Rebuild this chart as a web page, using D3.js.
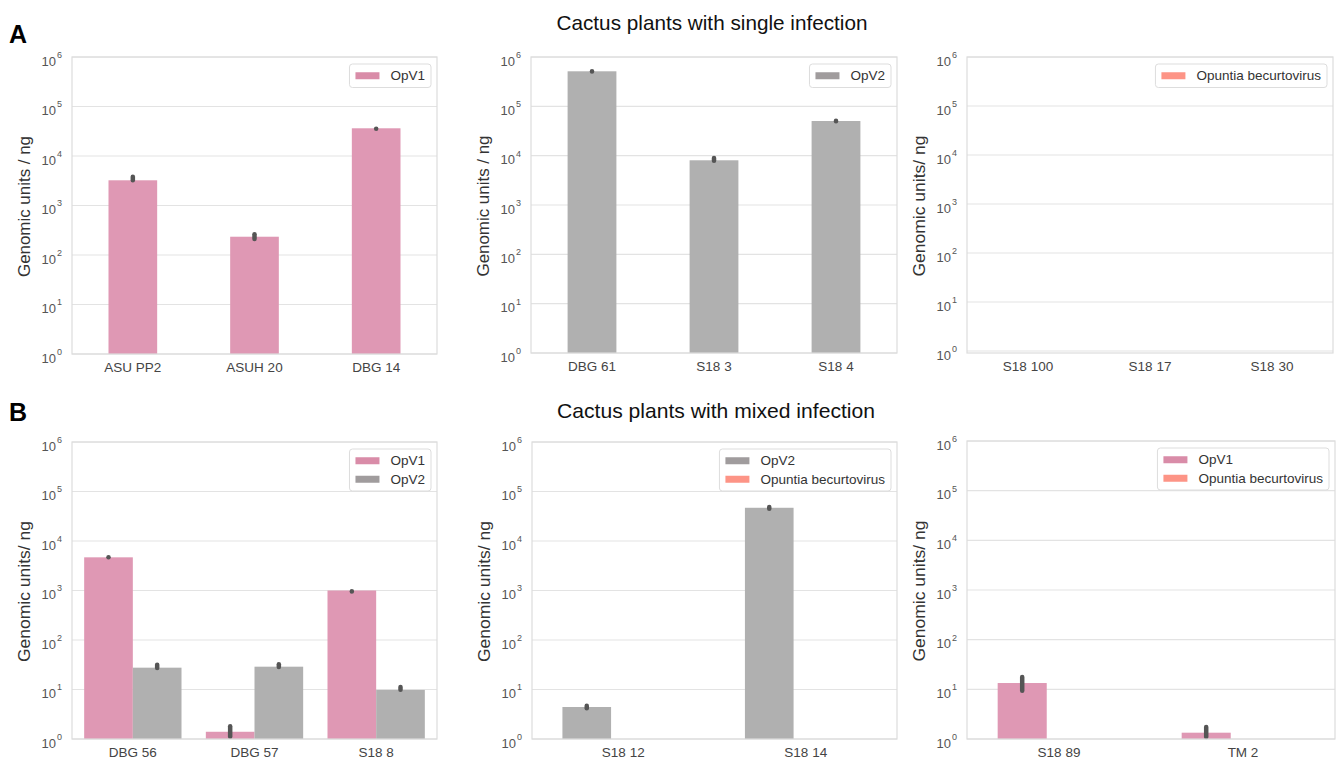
<!DOCTYPE html>
<html>
<head>
<meta charset="utf-8">
<script src="https://cdn.jsdelivr.net/npm/d3@7"></script>
<style>
  body { margin: 0; background: #fff; }
  svg { font-family: "Liberation Sans", Arial, sans-serif; }
</style>
</head>
<body>
<div class="chart"></div>
<script>
// 資料
const seriesNames = ["OpV1", "OpV2", "Opuntia becurtovirus"]

// A: single infection
const catsA1 = ["ASU PP2", "ASUH 20", "DBG 14"]
const opv1A1 = [3230, 234, 36300]
const opv1A1Lo = [2950, 192, 32500]
const opv1A1Hi = [4200, 288, 39000]

const catsA2 = ["DBG 61", "S18 3", "S18 4"]
const opv2A2 = [513000, 8060, 50400]
const opv2A2Lo = [470000, 7200, 46700]
const opv2A2Hi = [560000, 9800, 55000]

const catsA3 = ["S18 100", "S18 17", "S18 30"]
const obA3 = [null, null, null]

// B: mixed infection
const catsB1 = ["DBG 56", "DBG 57", "S18 8"]
const opv1B1 = [4680, 1.40, 1000]
const opv1B1Lo = [4270, 1.01, 875]
const opv1B1Hi = [5150, 1.98, 1050]
const opv2B1 = [27.6, 28.9, 9.8]
const opv2B1Lo = [24.7, 25.9, 9.0]
const opv2B1Hi = [34.8, 35.4, 12.3]

const catsB2 = ["S18 12", "S18 14"]
const opv2B2 = [4.43, 46900]
const opv2B2Lo = [3.80, 40900]
const opv2B2Hi = [5.16, 53300]
const obB2 = [null, null]

const catsB3 = ["S18 89", "TM 2"]
const opv1B3 = [13.4, 1.34]
const opv1B3Lo = [8.5, 1.0]
const opv1B3Hi = [19.4, 1.91]
const obB3 = [null, null]

const yTicks = [1, 10, 100, 1000, 10000, 100000, 1000000]

const barColor = { "OpV1": "#df98b4", "OpV2": "#b0b0b0", "Opuntia becurtovirus": "#fd9486" }
const legendColor = { "OpV1": "#d98ca8", "OpV2": "#a09c9d", "Opuntia becurtovirus": "#fd9486" }

function s(name, values, lo, hi) {
  return { name: name, values: values, lo: lo || [], hi: hi || [] }
}

const panels = [
  { box: [72, 437, 57, 354], cats: catsA1, ylabel: "Genomic units / ng", ymin: 1,
    series: [s("OpV1", opv1A1, opv1A1Lo, opv1A1Hi)] },
  { box: [531, 897, 57, 353], cats: catsA2, ylabel: "Genomic units / ng", ymin: 1,
    series: [s("OpV2", opv2A2, opv2A2Lo, opv2A2Hi)] },
  { box: [967, 1333, 57, 353], cats: catsA3, ylabel: "Genomic units/ ng", ymin: 0.91,
    series: [s("Opuntia becurtovirus", obA3)] },
  { box: [72, 437, 442, 739], cats: catsB1, ylabel: "Genomic units/ ng", ymin: 1,
    series: [s("OpV1", opv1B1, opv1B1Lo, opv1B1Hi), s("OpV2", opv2B1, opv2B1Lo, opv2B1Hi)] },
  { box: [532, 897, 442, 739], cats: catsB2, ylabel: "Genomic units/ ng", ymin: 1,
    series: [s("OpV2", opv2B2, opv2B2Lo, opv2B2Hi), s("Opuntia becurtovirus", obB2)] },
  { box: [967, 1335, 441, 739], cats: catsB3, ylabel: "Genomic units/ ng", ymin: 1,
    series: [s("OpV1", opv1B3, opv1B3Lo, opv1B3Hi), s("Opuntia becurtovirus", obB3)] }
]

const svg = d3.select(".chart").append("svg")
  .attr("width", 1338)
  .attr("height", 758)

// 標題
svg.append("text").attr("x", 712).attr("y", 30).attr("text-anchor", "middle")
  .attr("font-size", 21).attr("textLength", 311).attr("lengthAdjust", "spacingAndGlyphs")
  .attr("fill", "#111").text("Cactus plants with single infection")
svg.append("text").attr("x", 716).attr("y", 418).attr("text-anchor", "middle")
  .attr("font-size", 21).attr("textLength", 318).attr("lengthAdjust", "spacingAndGlyphs")
  .attr("fill", "#111").text("Cactus plants with mixed infection")
svg.append("text").attr("x", 9).attr("y", 43).attr("font-size", 25).attr("font-weight", "bold").text("A")
svg.append("text").attr("x", 9).attr("y", 421).attr("font-size", 25).attr("font-weight", "bold").text("B")

panels.forEach(drawPanel)

function drawPanel(p) {
  const [left, right, top, bottom] = p.box
  const w = right - left
  const g = svg.append("g")

  const x = d3.scaleBand().domain(p.cats).range([left, right]).padding(0)
  const y = d3.scaleLog().domain([p.ymin, 1e6]).range([bottom, top])

  // 格線
  g.append("g")
    .selectAll("line")
    .data(yTicks)
    .join("line")
    .attr("x1", left).attr("x2", right)
    .attr("y1", d => y(d)).attr("y2", d => y(d))
    .attr("stroke", "#e3e3e3").attr("stroke-width", 1.2)

  // Y 軸
  const yAxis = g.append("g")
    .attr("transform", `translate(${left},0)`)
    .call(d3.axisLeft(y).tickValues(yTicks).tickSize(0).tickPadding(10).tickFormat(""))
  yAxis.select(".domain").remove()
  yAxis.selectAll(".tick text")
    .attr("font-size", 13).attr("fill", "#555").attr("dy", "0.62em")
    .each(function(d) {
      const t = d3.select(this)
      t.append("tspan").text("10")
      t.append("tspan").attr("font-size", 9).attr("dy", "-0.85em").attr("dx", "1")
        .text(Math.round(Math.log10(d)))
    })

  // X 軸
  const xAxis = g.append("g")
    .attr("transform", `translate(0,${bottom})`)
    .call(d3.axisBottom(x).tickSize(0).tickPadding(8))
  xAxis.select(".domain").remove()
  xAxis.selectAll(".tick text").attr("font-size", 13.5).attr("fill", "#444")

  // 柱子
  const n = p.series.length
  const bw = x.bandwidth()
  const barW = 0.4 * w / 3
  p.series.forEach((sr, i) => {
    const off = (i - (n - 1) / 2) * 0.8 * bw / n
    const rows = p.cats.map((c, j) => ({ c: c, v: sr.values[j], lo: sr.lo[j], hi: sr.hi[j] }))
      .filter(d => d.v != null)
    g.append("g").selectAll("rect")
      .data(rows)
      .join("rect")
      .attr("x", d => x(d.c) + bw / 2 + off - barW / 2)
      .attr("width", barW)
      .attr("y", d => y(d.v))
      .attr("height", d => y(p.ymin) - y(d.v))
      .attr("fill", barColor[sr.name])
    g.append("g").selectAll("line")
      .data(rows.filter(d => d.lo != null))
      .join("line")
      .attr("x1", d => x(d.c) + bw / 2 + off)
      .attr("x2", d => x(d.c) + bw / 2 + off)
      .attr("y1", d => y(d.lo) - 2)
      .attr("y2", d => y(d.hi) + 2)
      .attr("stroke", "#555").attr("stroke-width", 4.5).attr("stroke-linecap", "round")
  })

  // 外框
  g.append("rect")
    .attr("x", left).attr("y", top).attr("width", w).attr("height", bottom - top)
    .attr("fill", "none").attr("stroke", "#dcdcdc").attr("stroke-width", 1.2)

  // Y 軸標籤
  g.append("text")
    .attr("transform", `translate(${left - 42},${(top + bottom) / 2 + 1}) rotate(-90)`)
    .attr("text-anchor", "middle").attr("font-size", 17).attr("fill", "#333")
    .attr("textLength", 141).attr("lengthAdjust", "spacingAndGlyphs")
    .text(p.ylabel)

  // 圖例
  const rowH = 18.5
  const lg = g.append("g")
  const box = lg.append("rect").attr("rx", 3)
    .attr("fill", "#fff").attr("fill-opacity", 0.85)
    .attr("stroke", "#dddddd")
  let textW = 0
  p.series.forEach((sr, i) => {
    const cy = 2.5 + rowH * i + rowH / 2
    lg.append("rect").attr("x", 6).attr("y", cy - 3.5).attr("width", 24).attr("height", 7)
      .attr("fill", legendColor[sr.name])
    const t = lg.append("text").attr("x", 41).attr("y", cy).attr("dy", "0.35em")
      .attr("font-size", 13.5).attr("fill", "#333").text(sr.name)
    textW = Math.max(textW, t.node().getComputedTextLength())
  })
  const lgW = 41 + textW + 6
  const lgH = 5 + rowH * n
  box.attr("width", lgW).attr("height", lgH)
  lg.attr("transform", `translate(${right - 6 - lgW},${top + 7})`)
}
</script>
</body>
</html>
